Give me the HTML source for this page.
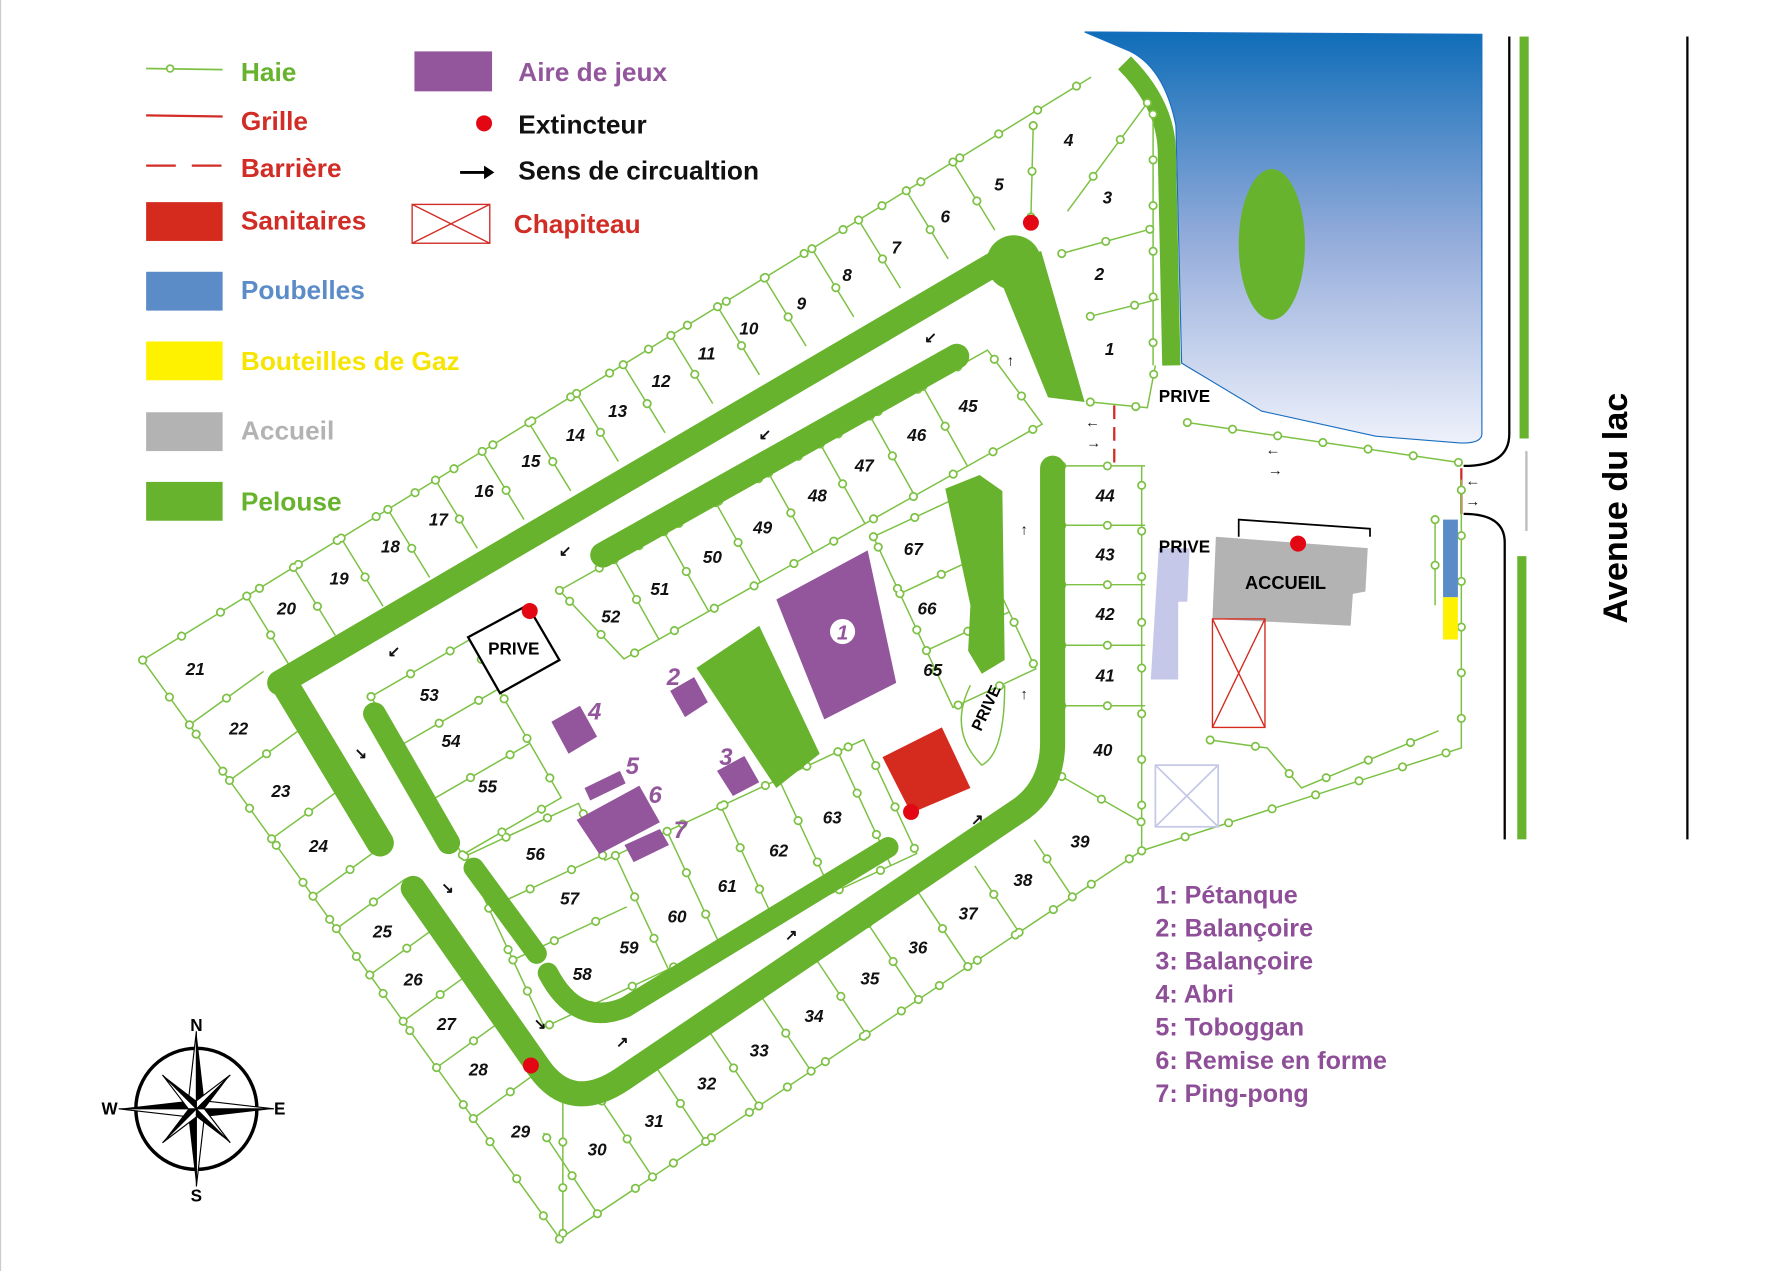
<!DOCTYPE html>
<html><head><meta charset="utf-8"><style>
html,body{margin:0;padding:0;background:#fff;}
svg{display:block}
text{font-family:"Liberation Sans Narrow","Liberation Sans",sans-serif;font-weight:bold}
.n{font-size:15px;font-style:italic;fill:#111;text-anchor:middle}
.lg{font-size:23px}
.pl{font-size:22px;fill:#8e4f98}
.ar{font-size:13px;fill:#111;text-anchor:middle}
</style></head><body>
<svg width="1781" height="1271" viewBox="0 0 1560 1113" preserveAspectRatio="none" xmlns="http://www.w3.org/2000/svg">
<defs>
<linearGradient id="lk" x1="0" y1="0" x2="0" y2="1">
<stop offset="0" stop-color="#0f6db8"/><stop offset="0.5" stop-color="#93abda"/><stop offset="1" stop-color="#eef1fb"/>
</linearGradient>
<g id="P">
<!-- top row -->
<g transform="translate(125,578) rotate(-31.57)">
<path d="M0 0H975M107 0v70M155 0v70M204 0v70M252 0v70M301 0v70M349 0v70M397 0v70M446 0v70M494 0v70M543 0v70M591 0v70M639 0v70M688 0v70M736 0v70M785 0v70M833 0v70"/>
</g>
<!-- left column -->
<g transform="translate(125,578) rotate(54.2)">
<path d="M0 0H625M70 0v-80M130 0v-80M193 0v-80M255 0v-78M290 0v-75M340 0v-75M390 0v-75M440 0v-75M495 0v-75"/>
</g>
<!-- bottom row -->
<g transform="translate(490,1085) rotate(-33.7)">
<path d="M0 0H613M40 0v-85M98 0v-85M154 0v-85M210 0v-85M265 0v-85M323 0v-85M378 0v-85M430 0v-80M484 0v-70M540 0v-60"/>
</g>
<path d="M493 960V1085M1000 745V408M930 408H1003M930 460H1003M930 512H1003M930 565H1003M930 618H1003M930 680L1000 720"/>
<!-- lots 1-4 -->
<path d="M905 110L903 190M1005 90L935 185M930 222L1010 200M955 277L1015 262M955 352L1005 357L1012 320M1010 100V320"/>
<!-- right hedges -->
<path d="M1040 370L1278 405M1000 745L1280 655V420M1060 648L1110 655L1140 690L1260 640M1257 455V530"/>
<!-- inner block 45-52 -->
<g transform="translate(490,517) rotate(-29.3)">
<path d="M0 0H430L440 80H20ZM55 0v80M105 0v80M157 0v80M210 0v80M262 0v80M312 0v80M365 0v80"/>
</g>
<!-- 53-55 -->
<g transform="translate(325,610) rotate(-30)">
<path d="M0 0H100V160H0ZM0 50H100M0 105H100"/>
</g>
<!-- 56-63 -->
<g transform="translate(407,750) rotate(-25)">
<path d="M0 0H110V55H360V165H0ZM0 50H110M0 100H110M120 55V165M170 55V165M222 55V165M278 55V165M335 55V165"/>
</g>
<!-- 65-67 -->
<g transform="translate(765,470) rotate(-25)">
<path d="M0 0H80V165H0ZM0 55H80M0 110H80"/>
</g>
</g>
</defs>
<rect width="1560" height="1113" fill="#fff"/>
<line x1="0.5" y1="0" x2="0.5" y2="1113" stroke="#ccc"/>

<!-- lake -->
<path d="M950 28L1298 30V380Q1298 388 1280 388L1205 382L1105 360L1035 318L1030 110Q1020 60 990 45Z" fill="url(#lk)" stroke="#1a6fc0" stroke-width="1"/>
<ellipse cx="1114" cy="214" rx="29" ry="66" fill="#67b32e"/>
<path d="M985 55Q1020 90 1022 130L1026 320" stroke="#67b32e" stroke-width="16" fill="none"/>

<!-- road lines -->
<path d="M1322 32V380Q1322 408 1282 408" stroke="#000" stroke-width="2" fill="none"/>
<path d="M1318 735V475Q1318 450 1282 450" stroke="#000" stroke-width="2" fill="none"/>
<rect x="1331" y="32" width="8" height="352" fill="#67b32e"/>
<rect x="1329" y="487" width="8" height="248" fill="#67b32e"/>
<line x1="1478" y1="32" x2="1478" y2="735" stroke="#000" stroke-width="2"/>
<line x1="1337" y1="395" x2="1337" y2="465" stroke="#bbb" stroke-width="2"/>
<line x1="1280" y1="410" x2="1280" y2="450" stroke="#d12d26" stroke-width="2"/>
<line x1="976" y1="355" x2="976" y2="408" stroke="#d12d26" stroke-width="2" stroke-dasharray="12 7"/>
<text x="1425" y="445" transform="rotate(-90 1425 445)" font-size="30" text-anchor="middle" style="font-family:'Liberation Sans',sans-serif">Avenue du lac</text>

<!-- plots hedges -->
<use href="#P" stroke="#7cc144" stroke-width="1.3" fill="none"/>
<use href="#P" stroke="#7cc144" stroke-width="8" stroke-dasharray="0 40" stroke-linecap="round" fill="none"/>
<use href="#P" stroke="#fff" stroke-width="5" stroke-dasharray="0 40" stroke-linecap="round" fill="none"/>

<!-- green roads -->
<g stroke="#67b32e" fill="none" stroke-linejoin="round" stroke-linecap="round">
<path d="M880 226L245 598" stroke-width="22"/>
<path d="M250 600L333 738" stroke-width="24"/>
<path d="M362 778L472 935Q500 975 545 945L895 708Q922 688 922 650V410" stroke-width="22"/>
<path d="M528 486L838 312" stroke-width="22"/>
<path d="M328 625L393 738" stroke-width="20"/>
<path d="M415 760L470 835" stroke-width="18"/>
<path d="M480 852Q505 900 548 882L778 742" stroke-width="18"/>
</g>
<circle cx="888" cy="230" r="24" fill="#67b32e"/>
<polygon points="868,225 912,220 950,352 918,348" fill="#67b32e"/>
<polygon points="610,585 665,548 718,660 680,690" fill="#67b32e"/>
<polygon points="828,428 858,416 878,430 880,578 860,590 848,570 850,530" fill="#67b32e"/>
<path d="M850 600Q830 640 860 670Q880 660 880 600" fill="none" stroke="#7cc144" stroke-width="1.3"/>

<!-- purple -->
<g fill="#93569c">
<polygon points="680,525 760,482 785,598 722,630"/>
<polygon points="587,605 608,593 620,615 600,628"/>
<polygon points="628,675 652,662 665,685 642,697"/>
<polygon points="483,632 508,618 523,645 498,660"/>
<polygon points="512,690 543,675 548,686 517,701"/>
<polygon points="505,718 560,688 578,720 525,748"/>
<polygon points="547,740 578,726 586,740 555,755"/>
</g>
<circle cx="738" cy="553" r="11" fill="#fff"/>
<text x="738" y="560" font-size="18" font-style="italic" fill="#93569c" text-anchor="middle">1</text>
<g font-size="21" font-style="italic" fill="#93569c">
<text x="584" y="600">2</text><text x="630" y="670">3</text><text x="515" y="630">4</text><text x="548" y="678">5</text><text x="568" y="703">6</text><text x="590" y="734">7</text>
</g>

<!-- sanitaires -->
<polygon points="773,663 825,637 850,690 798,712" fill="#d52b1e"/>

<!-- PRIVE box -->
<polygon points="410,558 462,530 490,578 438,607" fill="#fff" stroke="#000" stroke-width="2"/>
<text x="450" y="573" font-size="15" text-anchor="middle">PRIVE</text>

<!-- accueil area -->
<polyline points="1085,470 1085,455 1200,463 1200,470" fill="none" stroke="#000" stroke-width="1.5"/>
<polygon points="1065,470 1198,480 1196,518 1185,520 1183,548 1062,542" fill="#b3b3b3"/>
<text x="1126" y="516" font-size="16" text-anchor="middle">ACCUEIL</text>
<polygon points="1015,480 1042,480 1040,527 1032,527 1032,595 1008,595" fill="#c5c8e8"/>
<g stroke="#d52b1e" fill="none" stroke-width="1.2"><rect x="1062" y="542" width="46" height="95"/><path d="M1062 542L1108 637M1108 542L1062 637"/></g>
<g stroke="#c5c8e8" fill="none" stroke-width="1.5"><rect x="1012" y="670" width="55" height="54"/><path d="M1012 670L1067 724M1067 670L1012 724"/></g>
<rect x="1264" y="455" width="13" height="68" fill="#5b8cc8"/>
<rect x="1264" y="523" width="13" height="37" fill="#fff200"/>
<text x="1015" y="352" font-size="15">PRIVE</text>
<text x="1015" y="484" font-size="15">PRIVE</text>
<text x="868" y="622" font-size="14" transform="rotate(-65 868 622)" text-anchor="middle">PRIVE</text>

<!-- extinguishers -->
<g fill="#e30613"><circle cx="903" cy="195" r="7"/><circle cx="464" cy="535" r="7"/><circle cx="1137" cy="476" r="7"/><circle cx="798" cy="711" r="7"/><circle cx="465" cy="933" r="7"/></g>

<!-- arrows -->
<g class="ar">
<text x="885" y="320">↑</text><text x="815" y="300">↙</text><text x="670" y="385">↙</text><text x="495" y="487">↙</text><text x="345" y="575">↙</text>
<text x="316" y="664">↘</text><text x="392" y="782">↘</text><text x="473" y="901">↘</text><text x="545" y="917">↗</text><text x="693" y="823">↗</text><text x="856" y="722">↗</text>
<text x="897" y="612">↑</text><text x="897" y="468">↑</text><text x="957" y="374">←</text><text x="958" y="392">→</text>
<text x="1115" y="398">←</text><text x="1117" y="416">→</text><text x="1290" y="425">←</text><text x="1290" y="443">→</text>
</g>

<!-- lot numbers -->
<g class="n">
<text x="972" y="311">1</text><text x="963" y="245">2</text><text x="970" y="178">3</text><text x="936" y="128">4</text><text x="875" y="167">5</text><text x="828" y="195">6</text><text x="785" y="222">7</text><text x="742" y="246">8</text><text x="702" y="271">9</text><text x="656" y="293">10</text>
<text x="619" y="315">11</text><text x="579" y="339">12</text><text x="541" y="365">13</text><text x="504" y="386">14</text><text x="465" y="409">15</text><text x="424" y="435">16</text><text x="384" y="460">17</text><text x="342" y="484">18</text><text x="297" y="512">19</text><text x="251" y="538">20</text>
<text x="171" y="591">21</text><text x="209" y="643">22</text><text x="246" y="698">23</text><text x="279" y="746">24</text><text x="335" y="821">25</text><text x="362" y="863">26</text><text x="391" y="902">27</text><text x="419" y="942">28</text><text x="456" y="996">29</text><text x="523" y="1012">30</text>
<text x="573" y="987">31</text><text x="619" y="954">32</text><text x="665" y="925">33</text><text x="713" y="895">34</text><text x="762" y="862">35</text><text x="804" y="835">36</text><text x="848" y="805">37</text><text x="896" y="776">38</text><text x="946" y="742">39</text><text x="966" y="662">40</text>
<text x="968" y="597">41</text><text x="968" y="543">42</text><text x="968" y="491">43</text><text x="968" y="439">44</text><text x="848" y="361">45</text><text x="803" y="386">46</text><text x="757" y="413">47</text><text x="716" y="439">48</text><text x="668" y="467">49</text><text x="624" y="493">50</text>
<text x="578" y="521">51</text><text x="535" y="545">52</text><text x="376" y="614">53</text><text x="395" y="654">54</text><text x="427" y="694">55</text><text x="469" y="753">56</text><text x="499" y="792">57</text><text x="510" y="858">58</text><text x="551" y="835">59</text><text x="593" y="808">60</text>
<text x="637" y="781">61</text><text x="682" y="750">62</text><text x="729" y="721">63</text><text x="817" y="592">65</text><text x="812" y="538">66</text><text x="800" y="486">67</text>
</g>

<!-- legend -->
<line x1="128" y1="60" x2="195" y2="61" stroke="#7cc144" stroke-width="1.5"/><circle cx="149" cy="60" r="3" fill="#fff" stroke="#7cc144" stroke-width="1.5"/>
<line x1="128" y1="101" x2="195" y2="102" stroke="#d12d26" stroke-width="2"/>
<line x1="128" y1="145" x2="195" y2="145" stroke="#d12d26" stroke-width="2" stroke-dasharray="26 14"/>
<rect x="128" y="177" width="67" height="34" fill="#d52b1e"/>
<rect x="128" y="238" width="67" height="34" fill="#5b8cc8"/>
<rect x="128" y="299" width="67" height="34" fill="#fff200"/>
<rect x="128" y="361" width="67" height="34" fill="#b3b3b3"/>
<rect x="128" y="422" width="67" height="34" fill="#67b32e"/>
<g class="lg">
<text x="211" y="71" fill="#67b32e">Haie</text>
<text x="211" y="114" fill="#d12d26">Grille</text>
<text x="211" y="155" fill="#d12d26">Barrière</text>
<text x="211" y="201" fill="#d12d26">Sanitaires</text>
<text x="211" y="262" fill="#5b8cc8">Poubelles</text>
<text x="211" y="324" fill="#f6e500">Bouteilles de Gaz</text>
<text x="211" y="385" fill="#b3b3b3">Accueil</text>
<text x="211" y="447" fill="#67b32e">Pelouse</text>
<text x="454" y="71" fill="#93569c">Aire de jeux</text>
<text x="454" y="117" fill="#111">Extincteur</text>
<text x="454" y="157" fill="#111">Sens de circualtion</text>
<text x="450" y="204" fill="#d12d26">Chapiteau</text>
</g>
<rect x="363" y="45" width="68" height="35" fill="#93569c"/>
<circle cx="424" cy="108" r="7" fill="#e30613"/>
<line x1="403" y1="151" x2="425" y2="151" stroke="#000" stroke-width="2.5"/><polygon points="424,145 433,151 424,157" fill="#000"/>
<g stroke="#d12d26" fill="none" stroke-width="1.2"><rect x="361" y="179" width="68" height="34"/><path d="M361 179L429 213M429 179L361 213"/></g>

<g class="pl">
<text x="1012" y="791">1: Pétanque</text><text x="1012" y="820">2: Balançoire</text><text x="1012" y="849">3: Balançoire</text><text x="1012" y="878">4: Abri</text><text x="1012" y="907">5: Toboggan</text><text x="1012" y="936">6: Remise en forme</text><text x="1012" y="965">7: Ping-pong</text>
</g>

<!-- compass -->
<g transform="translate(172,971)">
<circle r="53" fill="none" stroke="#000" stroke-width="3"/>
<polygon points="0,-68 7,-7 0,0" fill="#000"/><polygon points="0,-68 -7,-7 0,0" fill="#fff" stroke="#000"/>
<polygon points="0,68 -7,7 0,0" fill="#000"/><polygon points="0,68 7,7 0,0" fill="#fff" stroke="#000"/>
<polygon points="68,0 7,7 0,0" fill="#000"/><polygon points="68,0 7,-7 0,0" fill="#fff" stroke="#000"/>
<polygon points="-68,0 -7,-7 0,0" fill="#000"/><polygon points="-68,0 -7,7 0,0" fill="#fff" stroke="#000"/>
<g transform="rotate(45)">
<polygon points="0,-42 5,-5 0,0" fill="#000"/><polygon points="0,-42 -5,-5 0,0" fill="#fff" stroke="#000"/>
<polygon points="0,42 -5,5 0,0" fill="#000"/><polygon points="0,42 5,5 0,0" fill="#fff" stroke="#000"/>
<polygon points="42,0 5,5 0,0" fill="#000"/><polygon points="42,0 5,-5 0,0" fill="#fff" stroke="#000"/>
<polygon points="-42,0 -5,-5 0,0" fill="#000"/><polygon points="-42,0 -5,5 0,0" fill="#fff" stroke="#000"/>
</g>
<text x="0" y="-68" font-size="15" text-anchor="middle">N</text>
<text x="0" y="81" font-size="15" text-anchor="middle">S</text>
<text x="-76" y="5" font-size="15" text-anchor="middle">W</text>
<text x="73" y="5" font-size="15" text-anchor="middle">E</text>
</g>
</svg>
</body></html>
